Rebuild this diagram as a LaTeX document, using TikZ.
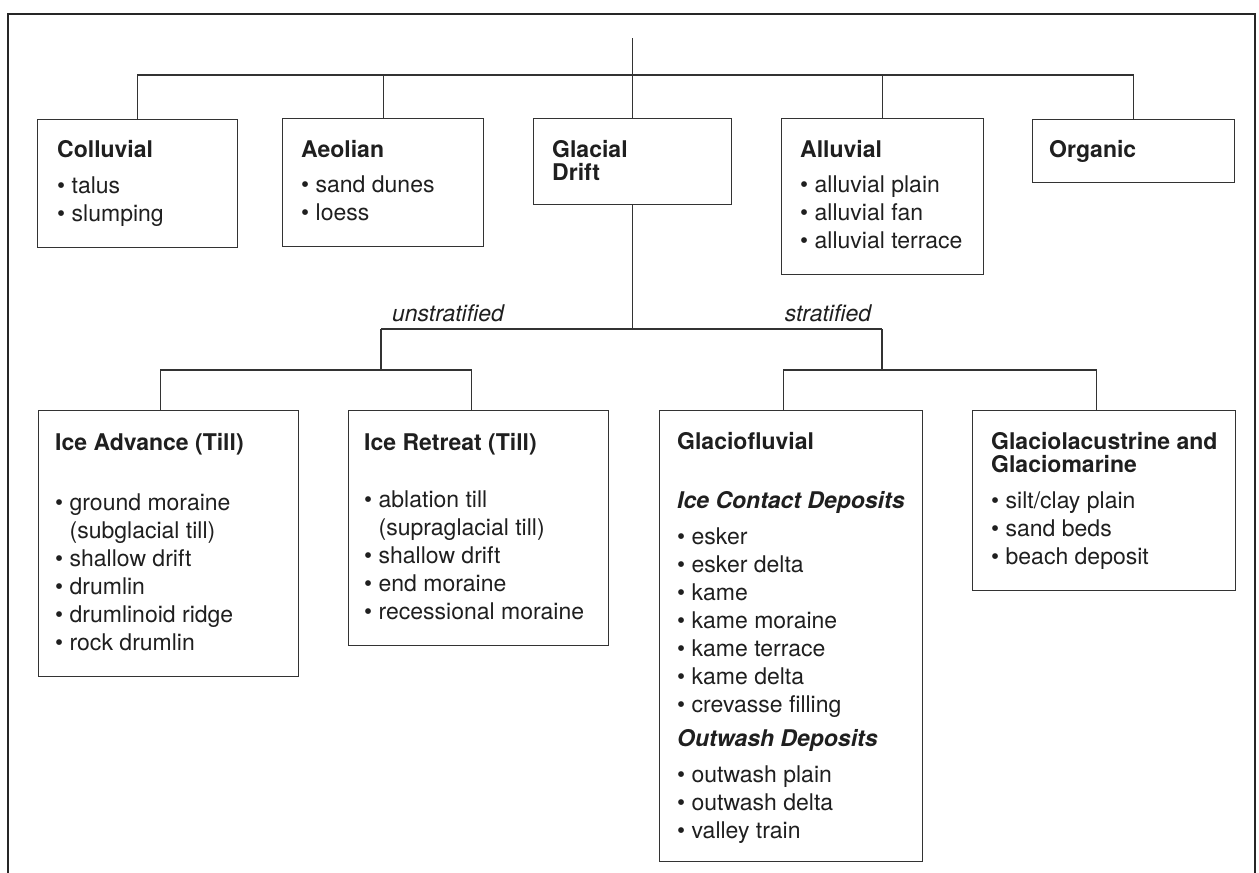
\documentclass[tikz,border=0pt]{standalone}
\usepackage{fontspec}
\setmainfont{TeX Gyre Heros}
\newcommand{\itm}{\textbullet\ }
\newcommand{\myind}{\phantom{\textbullet\ }}
\newcommand{\mystrut}{\rule{0pt}{18pt}}
\tikzset{
  box/.style={draw=black!80, line width=1.3pt, rectangle, anchor=north west, inner sep=0pt},
  conn/.style={draw=black!80, line width=1.3pt},
  frame/.style={draw=black!85, line width=2.2pt},
  txt/.style={anchor=north west, inner sep=0pt, align=left, text=black!88, font=\fontsize{23}{28}\selectfont},
  lab/.style={anchor=base, inner sep=0pt, text=black!88, font=\fontsize{23}{28}\selectfont\itshape},
}
\begin{document}
\begin{tikzpicture}[x=1pt,y=-1pt]
\useasboundingbox (0,0) rectangle (1259,873);
% frame
\coordinate (fBL) at (8,873);
\coordinate (fTL) at (8,14);
\coordinate (fTR) at (1255,14);
\coordinate (fBR) at (1255,873);
\draw[frame] (fBL) -- (fTL) -- (fTR) -- (fBR);

% top boxes
\node[box, minimum width=200pt, minimum height=128pt] (col) at (37,119) {};
\node[box, minimum width=201pt, minimum height=128pt] (aeo) at (282,118) {};
\node[box, minimum width=198pt, minimum height=86pt] (gd) at (533,118) {};
\node[box, minimum width=202pt, minimum height=156pt] (all) at (781,118) {};
\node[box, minimum width=202pt, minimum height=63pt] (org) at (1032,119) {};
% lower boxes
\node[box, minimum width=260pt, minimum height=266pt] (ia) at (38,410) {};
\node[box, minimum width=260pt, minimum height=235pt] (ir) at (348,410) {};
\node[box, minimum width=263pt, minimum height=451pt] (gf) at (659,410) {};
\node[box, minimum width=263pt, minimum height=180pt] (gl) at (972,410) {};

% texts
\node[txt] (colT) at (57,139) {\mystrut\textbf{Colluvial}\\[8pt] \itm talus\\ \itm slumping};
\node[txt] (aeoT) at (301,139) {\mystrut\textbf{Aeolian}\\[7pt] \itm sand dunes\\ \itm loess};
\node[txt] (gdT) at (552,139) {\mystrut\textbf{Glacial}\\[-5pt] \textbf{Drift}};
\node[txt] (allT) at (800,139) {\mystrut\textbf{Alluvial}\\[7pt] \itm alluvial plain\\ \itm alluvial fan\\ \itm alluvial terrace};
\node[txt] (orgT) at (1049,139) {\mystrut\textbf{Organic}};

\node[txt] (iaT) at (55,432) {\mystrut\textbf{Ice Advance (Till)}\\[32pt] \itm ground moraine\\ \myind(subglacial till)\\ \itm shallow drift\\ \itm drumlin\\ \itm drumlinoid ridge\\ \itm rock drumlin};
\node[txt] (irT) at (364,432) {\mystrut\textbf{Ice Retreat (Till)}\\[29pt] \itm ablation till\\ \myind(supraglacial till)\\ \itm shallow drift\\ \itm end moraine\\ \itm recessional moraine};
\node[txt] (gfT) at (677,431) {\mystrut\textbf{Glaciofluvial}\\[31pt] \textbf{\textit{Ice Contact Deposits}}\\[8pt] \itm esker\\ \itm esker delta\\ \itm kame\\ \itm kame moraine\\ \itm kame terrace\\ \itm kame delta\\ \itm crevasse filling\\[6pt] \textbf{\textit{Outwash Deposits}}\\[8pt] \itm outwash plain\\ \itm outwash delta\\ \itm valley train};
\node[txt] (glT) at (991,431) {\mystrut\textbf{Glaciolacustrine and}\\[-5pt] \textbf{Glaciomarine}\\[8pt] \itm silt/clay plain\\ \itm sand beds\\ \itm beach deposit};

% connectors top
\coordinate (root) at (632,38);
\coordinate (topbar) at (632,75);
\draw[conn] (gd.north |- root) -- (gd.north);
\draw[conn] (col.north) |- (org.north |- topbar) -- (org.north);
\draw[conn] (aeo.north) -- (aeo.north |- topbar);
\draw[conn] (all.north) -- (all.north |- topbar);

% middle split
\coordinate (uL) at (381,329);
\coordinate (sR) at (882,329);
\coordinate (lbar) at (0,370);
\draw[conn] (gd.south) -- (gd.south |- uL);
\draw[conn] (uL) -- (sR);
\draw[conn] (uL) -- (uL |- lbar);
\draw[conn] (sR) -- (sR |- lbar);
\draw[conn] ([xshift=-8pt]ia.north) |- ([xshift=-7pt]ir.north |- lbar) -- ([xshift=-7pt]ir.north);
\draw[conn] ([xshift=-8pt]gf.north) |- ([xshift=-8pt]gl.north |- lbar) -- ([xshift=-8pt]gl.north);

\node[lab] (lu) at (448,321) {unstratified};
\node[lab] (ls) at (828,321) {stratified};
\end{tikzpicture}
\end{document}
